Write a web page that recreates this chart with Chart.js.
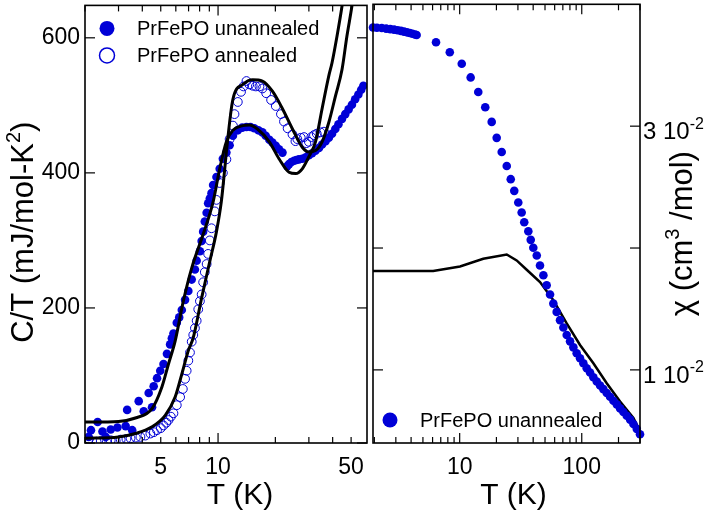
<!DOCTYPE html>
<html>
<head>
<meta charset="utf-8">
<script src="https://cdn.jsdelivr.net/npm/chart.js@4.4.0/dist/chart.umd.min.js"></script>
<style>
  html, body { margin: 0; padding: 0; background: #fff; }
  #wrap { position: relative; width: 708px; height: 512px; }
  #wrap canvas { position: absolute; left: 0; top: 0; }
</style>
</head>
<body>
<div id="wrap">
  <canvas id="cpChart" width="708" height="512"></canvas>
  <canvas id="chiChart" width="708" height="512"></canvas>
</div>
<script>
// ---- left panel: C/T vs T ----
const cpUnannT = [2.09,2.15,2.33,2.47,2.57,2.73,2.96,3.27,3.33,3.54,3.83,4.07,4.32,4.50,4.59,4.78,4.97,5.17,5.39,5.60,5.72,5.83,6.07,6.25,6.45,6.71,6.98,7.27,7.56,7.72,8.03,8.20,8.35,8.52,8.71,8.87,9.05,9.24,9.42,9.81,10.2,10.6,11.06,11.5,11.97,12.7,13.4,14.1,14.8,15.5,16.3,17.1,17.8,18.6,19.3,20.1,20.9,21.8,23.1,23.6,24.3,25.1,25.8,26.6,27.7,28.9,30.0,31.2,32.5,33.9,35.2,36.7,38.2,39.7,41.3,42.9,44.8,46.6,48.5,50.5,52.5,54.6,56.5,58.0];
const cpUnannC = [9,19,31,17,9,20,23,25,49,19,62,47,74,53,84,96,107,117,132,146,155,162,178,186,197,212,225,242,257,270,284,299,313,328,341,355,362,370,382,394,406,421,430,441,455,463,467,468,468,466,463,460,455,449,445,440,435,430,410,413,416,418,419,420,421,423,426,429,433,437,442,447,452,458,465,472,480,487,494,501,509,516,523,529];

const cpAnnT = [2.10,2.30,2.42,2.60,2.73,2.90,3.08,3.30,3.47,3.70,3.91,4.15,4.41,4.60,4.78,5.00,5.17,5.35,5.49,5.65,5.83,6.07,6.32,6.53,6.71,6.84,6.98,7.12,7.27,7.41,7.56,7.72,7.87,8.03,8.20,8.35,8.52,8.71,8.87,9.05,9.24,9.61,9.81,10.2,10.6,11.06,11.5,11.97,12.2,12.7,13.2,13.6,14.1,14.6,15.2,15.8,16.5,17.1,17.9,19.0,20.1,21.4,22.2,23.2,24.6,25.5,26.1,27.2,28.3,29.1,30.0,30.9,31.9,33.0,34.5,36.0];
const cpAnnC = [6,2,3,1,4,3,5,6,7,8,9,11,14,16,19,22,26,30,34,39,44,56,68,80,95,107,122,134,150,160,170,181,198,210,220,238,253,265,280,300,318,343,360,385,400,420,450,470,487,505,520,528,536,531,529,528,528,525,518,508,499,487,476,466,457,447,450,452,453,444,446,453,456,458,460,461];

const fitUnT = [2.0,3.0,3.68,4.50,5.07,5.49,5.95,6.57,7.27,8.35,9.42,10.2,11.06,11.97,13.5,14.6,16.1,18.6,20.9,23.6,25.6,27.7,30.0,32.5,35.2,38.2,39.7,42.2,44.8,47.0];
const fitUnC = [31,32,37,51,83,117,151,210,259,309,357,406,446,463,470,471,465,446,421,401,399,406,424,446,495,544,563,603,647,690];

const fitAnT = [2.0,3.0,3.68,4.50,5.28,5.95,6.45,6.98,7.41,8.20,9.05,9.81,10.4,10.8,11.06,11.97,13.5,15.2,17.1,19.3,21.8,24.6,27.7,30.0,32.5,35.2,38.2,41.4,44.8,47.5,50.5,53.0];
const fitAnC = [7,9,14,24,41,68,102,137,156,215,269,313,357,401,431,509,531,538,536,521,495,465,438,431,433,446,475,514,553,602,647,690];

const cpXTicks = [2,3,4,5,6,7,8,9,10,20,30,40,50];
const cpXLabels = [5,10,50];
const cpYTicks = [0,200,400,600];

// ---- right panel: chi vs T ----
const chiT = [1.95,2.1,2.3,2.5,2.7,2.9,3.1,3.3,3.5,3.7,3.9,4.1,4.3,4.44,6.4,8.3,10.4,12.3,14.2,16.2,18.3,20.1,22.1,24.3,26.2,28.0,30.2,32.2,33.8,36.5,38.2,40.1,42.8,45.5,48.5,51.6,55.0,58.5,62.3,66.4,70.7,75.3,80.2,85.4,90.9,96.8,103.1,109.8,116.9,124.5,132.7,141.3,150.4,160.2,170.6,181.7,193.5,206.1,219.4,233.7,248.9,265.0,282.2,300];
const chiV = [0.0381,0.03808,0.03805,0.038,0.03796,0.03792,0.03787,0.03782,0.03776,0.0377,0.03764,0.03758,0.03752,0.03748,0.03688,0.03607,0.03512,0.0340,0.0328,0.03155,0.03035,0.02904,0.02788,0.02673,0.02565,0.02469,0.02374,0.02292,0.02211,0.02137,0.02067,0.02002,0.01939,0.01857,0.01776,0.01694,0.01618,0.01544,0.01476,0.01408,0.01348,0.01286,0.01234,0.01185,0.01136,0.01095,0.01054,0.01014,0.00978,0.0094,0.00905,0.00872,0.00842,0.0081,0.0078,0.00747,0.00717,0.00684,0.00654,0.00624,0.00592,0.00556,0.00516,0.00472];

const chiFitT = [1.95,6.07,10.06,15.6,24.3,29.3,35.4,45.5,58.5,75.3,96.8,124.5,160.2,206.1,265.0,300];
const chiFitV = [0.01811,0.01811,0.01849,0.01912,0.01947,0.01898,0.01822,0.01721,0.01571,0.01381,0.01204,0.01054,0.00891,0.00741,0.00605,0.00496];

const chiXTicks = [2,3,4,5,6,7,8,9,10,20,30,40,50,60,70,80,90,100,200,300];
const chiXLabels = [10,100];
const chiYTicks = [0.01,0.02,0.03];
const chiYLabels = [[0.03,'3 10','-2'],[0.01,'1 10','-2']];

const FONT = "'Liberation Sans', Arial, Helvetica, sans-serif";
const BLUE = '#0000d7';

Chart.defaults.color = '#000';
Chart.defaults.font.family = FONT;
Chart.defaults.font.size = 23;

const pts = (xs, ys) => xs.map((x, i) => ({ x, y: ys[i] }));

// text with superscript parts, centred on (x, y), optionally rotated
function richText(ctx, parts, x, y, size, rotate, align) {
    ctx.save();
    ctx.translate(x, y);
    if (rotate) ctx.rotate(-Math.PI / 2);
    ctx.fillStyle = '#000';
    ctx.textBaseline = 'alphabetic';
    ctx.textAlign = 'left';
    const supSize = Math.round(size * 0.66);
    const widths = parts.map(p => {
        ctx.font = (p[1] ? supSize : size) + 'px ' + FONT;
        return ctx.measureText(p[0]).width;
    });
    const total = widths.reduce((a, b) => a + b, 0);
    let cx = align === 'left' ? 0 : -total / 2;
    parts.forEach((p, i) => {
        ctx.font = (p[1] ? supSize : size) + 'px ' + FONT;
        ctx.fillText(p[0], cx, p[1] ? size * 0.36 - size * 0.42 : size * 0.36);
        cx += widths[i];
    });
    ctx.restore();
}

// frame box + inward ticks on all four sides
const framePlugin = {
    id: 'frame',
    afterDatasetsDraw(chart, args, opts) {
        const { ctx, chartArea: a, scales } = chart;
        ctx.save();
        ctx.strokeStyle = '#000';
        const seg = (x1, y1, x2, y2) => { ctx.beginPath(); ctx.moveTo(x1, y1); ctx.lineTo(x2, y2); ctx.stroke(); };
        ctx.lineWidth = 1.2;
        opts.xTicks.forEach(v => {
            const x = scales.x.getPixelForValue(v);
            const len = opts.xMajor.includes(v) ? 10 : 6;
            seg(x, a.bottom, x, a.bottom - len);
            seg(x, a.top, x, a.top + len);
        });
        opts.yTicks.forEach(v => {
            const y = scales.y.getPixelForValue(v);
            seg(a.left, y, a.left + 10, y);
            seg(a.right, y, a.right - 10, y);
        });
        ctx.lineWidth = 1.6;
        ctx.strokeRect(a.left, a.top, a.right - a.left, a.bottom - a.top);
        ctx.restore();
    }
};

function legendItem(ctx, x, y, filled, text) {
    ctx.save();
    ctx.beginPath();
    ctx.arc(x, y, 7.5, 0, Math.PI * 2);
    if (filled) { ctx.fillStyle = BLUE; ctx.fill(); }
    else { ctx.strokeStyle = BLUE; ctx.lineWidth = 1.5; ctx.stroke(); }
    ctx.fillStyle = '#000';
    ctx.font = '20px ' + FONT;
    ctx.textAlign = 'left';
    ctx.textBaseline = 'middle';
    ctx.fillText(text, x + 30, y + 1);
    ctx.restore();
}

const cpDecor = {
    id: 'cpDecor',
    afterDraw(chart) {
        const { ctx, chartArea: a } = chart;
        richText(ctx, [['T (K)', false]], (a.left + a.right) / 2 + 14, 493, 30, false);
        richText(ctx, [['C/T (mJ/mol-K', false], ['2', true], [')', false]], 22, (a.top + a.bottom) / 2 + 8, 31, true);
        legendItem(ctx, a.left + 22, a.top + 23, true, 'PrFePO unannealed');
        legendItem(ctx, a.left + 22, a.top + 50, false, 'PrFePO annealed');
    }
};

const chiDecor = {
    id: 'chiDecor',
    afterDraw(chart) {
        const { ctx, chartArea: a, scales } = chart;
        richText(ctx, [['T (K)', false]], (a.left + a.right) / 2 + 7, 493, 30, false);
        richText(ctx, [['\u03c7 (cm', false], ['3', true], [' /mol)', false]], 681, (a.top + a.bottom) / 2 + 10, 31, true);
        chiYLabels.forEach(([v, base, sup]) => {
            richText(ctx, [[base, false], [sup, true]], a.right + 3, scales.y.getPixelForValue(v) + 4, 24, false, 'left');
        });
        legendItem(ctx, a.left + 17, a.bottom - 23, true, 'PrFePO unannealed');
    }
};

function xScale(min, max, ticks, labels) {
    return {
        type: 'logarithmic', min, max,
        afterBuildTicks: s => { s.ticks = ticks.map(v => ({ value: v })); },
        ticks: { autoSkip: false, maxRotation: 0, padding: 11, callback: v => labels.includes(v) ? String(v) : '' },
        grid: { display: false, drawTicks: false },
        border: { display: false },
        afterFit: s => { s.height = 69; s.paddingLeft = 0; s.paddingRight = 0; }
    };
}

new Chart(document.getElementById('cpChart'), {
    type: 'scatter',
    data: {
        datasets: [
            { data: pts(fitUnT, fitUnC), showLine: true, borderColor: '#000', borderWidth: 3, pointRadius: 0, cubicInterpolationMode: 'monotone' },
            { data: pts(fitAnT, fitAnC), showLine: true, borderColor: '#000', borderWidth: 3, pointRadius: 0, cubicInterpolationMode: 'monotone' },
            { data: pts(cpUnannT, cpUnannC), pointRadius: 4.3, backgroundColor: BLUE, borderWidth: 0 },
            { data: pts(cpAnnT, cpAnnC), pointRadius: 4.4, backgroundColor: 'rgba(0,0,0,0)', borderColor: BLUE, borderWidth: 1 }
        ]
    },
    options: {
        responsive: false, animation: false, events: [],
        layout: { padding: { left: 0, top: 2, right: 341, bottom: 0 } },
        plugins: {
            legend: { display: false }, tooltip: { enabled: false },
            frame: { xTicks: cpXTicks, xMajor: [10], yTicks: cpYTicks }
        },
        scales: {
            x: xScale(2.0, 60.6, cpXTicks, cpXLabels),
            y: {
                type: 'linear', min: 0, max: 648,
                afterBuildTicks: s => { s.ticks = cpYTicks.map(v => ({ value: v })); },
                ticks: { padding: 5 },
                grid: { display: false, drawTicks: false },
                border: { display: false },
                afterFit: s => { s.width = 85; s.paddingTop = 0; s.paddingBottom = 0; }
            }
        }
    },
    plugins: [framePlugin, cpDecor]
});

new Chart(document.getElementById('chiChart'), {
    type: 'scatter',
    data: {
        datasets: [
            { data: pts(chiT, chiV), pointRadius: 4.3, backgroundColor: BLUE, borderWidth: 0, clip: false },
            { data: pts(chiFitT, chiFitV), showLine: true, borderColor: '#000', borderWidth: 2.5, pointRadius: 0, tension: 0 }
        ]
    },
    options: {
        responsive: false, animation: false, events: [],
        layout: { padding: { left: 373, top: 2, right: 0, bottom: 0 } },
        plugins: {
            legend: { display: false }, tooltip: { enabled: false },
            frame: { xTicks: chiXTicks, xMajor: [10, 100], yTicks: chiYTicks }
        },
        scales: {
            x: xScale(1.95, 300, chiXTicks, chiXLabels),
            y: {
                type: 'linear', position: 'right', min: 0.004, max: 0.04,
                ticks: { display: false },
                grid: { display: false, drawTicks: false },
                border: { display: false },
                afterFit: s => { s.width = 68; s.paddingTop = 0; s.paddingBottom = 0; }
            }
        }
    },
    plugins: [framePlugin, chiDecor]
});
</script>
</body>
</html>
